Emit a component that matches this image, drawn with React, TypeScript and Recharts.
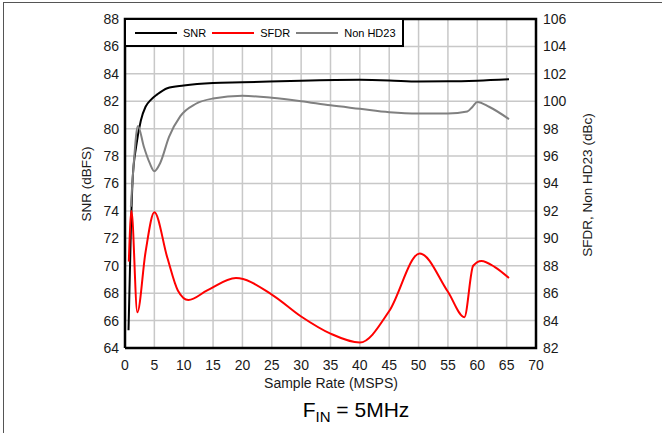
import React from "react";
import { LineChart, Line, XAxis, YAxis } from "recharts";

// sample rate (MSPS) / value pairs
const snrX = [0.6, 1.0, 1.3, 1.9, 2.7, 3.5, 4.4, 5.5, 7.2, 10, 15, 20, 30, 40, 45, 50, 55, 60, 65.4];
const snrY = [65.3, 72.6, 76.3, 78.7, 80.6, 81.6, 82.1, 82.5, 82.95, 83.15, 83.33, 83.38, 83.5, 83.56, 83.52, 83.44, 83.45, 83.5, 83.6];

const sfdrX = [0.65, 1.1, 2.1, 3.5, 5.0, 7.2, 9.0, 10.8, 14, 18.9, 25, 30, 35, 40, 45, 50.2, 55, 57.8, 59.3, 60.7, 63, 65.4];
const sfdrY = [88.3, 92.0, 84.6, 89.0, 91.9, 88.6, 86.2, 85.5, 86.2, 87.1, 85.9, 84.3, 83.05, 82.4, 84.7, 88.9, 86.1, 84.25, 88.0, 88.35, 87.9, 87.1];

const hdX = [1.0, 1.5, 2.2, 3.2, 4.2, 5.0, 6.0, 7.5, 9.4, 12, 15, 20, 25, 30, 35, 40, 45, 50, 55, 58.3, 59.2, 60, 62, 65.4];
const hdY = [92.3, 95.5, 98.2, 96.7, 95.5, 94.9, 95.5, 97.4, 98.9, 99.8, 100.2, 100.4, 100.25, 100.0, 99.7, 99.45, 99.2, 99.1, 99.1, 99.25, 99.6, 99.95, 99.6, 98.7];

const xTicks = [0, 5, 10, 15, 20, 25, 30, 35, 40, 45, 50, 55, 60, 65, 70];
const leftTicks = [64, 66, 68, 70, 72, 74, 76, 78, 80, 82, 84, 86, 88];
const rightTicks = [82, 84, 86, 88, 90, 92, 94, 96, 98, 100, 102, 104, 106];

const X_MIN = 0;
const X_MAX = 70;
const Y_MIN = 64;
const Y_MAX = 88;

const zip = (xs: number[], ys: number[]) => xs.map((x, i) => ({ x, y: ys[i] }));

const snrData = zip(snrX, snrY);
const sfdrData = zip(sfdrX, sfdrY);
const hdData = zip(hdX, hdY);

// grid and frame as tiny line series, so they go through the chart's scales
const gridV = xTicks.slice(1, -1).map((t) => [
  { x: t, y: Y_MIN },
  { x: t, y: Y_MAX },
]);
const gridH = leftTicks.slice(1, -1).map((t) => [
  { x: X_MIN, y: t },
  { x: X_MAX, y: t },
]);
const frame = [
  { x: X_MIN, y: Y_MIN },
  { x: X_MAX, y: Y_MIN },
  { x: X_MAX, y: Y_MAX },
  { x: X_MIN, y: Y_MAX },
  { x: X_MIN, y: Y_MIN },
];

const FONT = '"Liberation Sans", Arial, sans-serif';
const tickStyle = { fontSize: 14, fill: "#1a1a1a", fontFamily: FONT };
const GRID = "#c8c8c8";

const legendItems = [
  { label: "SNR", color: "#000000" },
  { label: "SFDR", color: "#ff0000" },
  { label: "Non HD23", color: "#808080" },
];

const LegendBox = () => (
  <div
    style={{
      position: "absolute",
      left: 124,
      top: 18,
      width: 280,
      height: 29,
      boxSizing: "border-box",
      border: "2px solid #000",
      background: "#fff",
      display: "flex",
      alignItems: "center",
      paddingLeft: 9,
      fontFamily: FONT,
      fontSize: 11,
      color: "#000",
      whiteSpace: "nowrap",
    }}
  >
    {legendItems.map((it) => (
      <div key={it.label} style={{ display: "flex", alignItems: "center", marginRight: 6 }}>
        <div style={{ width: 42, height: 2, background: it.color, marginRight: 6 }} />
        <span>{it.label}</span>
      </div>
    ))}
  </div>
);

const App: React.FC = () => {
  return (
    <div
      style={{
        position: "absolute",
        left: 0,
        top: 0,
        width: 662,
        height: 433,
        background: "#fff",
        fontFamily: FONT,
        overflow: "hidden",
      }}
    >
      <div
        style={{
          position: "absolute",
          left: 3,
          top: 2,
          width: 700,
          height: 500,
          borderTop: "1.5px solid #555",
          borderLeft: "1.5px solid #555",
        }}
      />
      <LineChart
        width={662}
        height={433}
        margin={{ top: 19, right: 0, bottom: 55, left: 0 }}
        style={{ position: "absolute", left: 0, top: 0 }}
      >
        <XAxis
          type="number"
          dataKey="x"
          domain={[X_MIN, X_MAX]}
          ticks={xTicks}
          interval={0}
          axisLine={false}
          tickLine={false}
          tickMargin={6}
          height={30}
          tick={tickStyle}
          allowDuplicatedCategory={false}
        />
        <YAxis
          yAxisId="left"
          orientation="left"
          domain={[Y_MIN, Y_MAX]}
          ticks={leftTicks}
          interval={0}
          width={125}
          axisLine={false}
          tickLine={false}
          tickMargin={0}
          tick={tickStyle}
        />
        <YAxis
          yAxisId="right"
          orientation="right"
          domain={[82, 106]}
          ticks={rightTicks}
          interval={0}
          width={126}
          axisLine={false}
          tickLine={false}
          tickMargin={1}
          tick={tickStyle}
        />
        {gridV.map((d, i) => (
          <Line
            key={"gv" + i}
            yAxisId="left"
            data={d}
            dataKey="y"
            type="linear"
            stroke={GRID}
            strokeWidth={1.5}
            dot={false}
            activeDot={false}
            legendType="none"
            isAnimationActive={false}
          />
        ))}
        {gridH.map((d, i) => (
          <Line
            key={"gh" + i}
            yAxisId="left"
            data={d}
            dataKey="y"
            type="linear"
            stroke={GRID}
            strokeWidth={1.5}
            dot={false}
            activeDot={false}
            legendType="none"
            isAnimationActive={false}
          />
        ))}
        <Line
          yAxisId="left"
          data={frame}
          dataKey="y"
          type="linear"
          stroke="#000"
          strokeWidth={2.5}
          dot={false}
          activeDot={false}
          legendType="none"
          isAnimationActive={false}
        />
        <Line
          yAxisId="left"
          data={snrData}
          dataKey="y"
          name="SNR"
          type="monotone"
          stroke="#000000"
          strokeWidth={2}
          dot={false}
          isAnimationActive={false}
        />
        <Line
          yAxisId="right"
          data={sfdrData}
          dataKey="y"
          name="SFDR"
          type="monotone"
          stroke="#ff0000"
          strokeWidth={2}
          dot={false}
          isAnimationActive={false}
        />
        <Line
          yAxisId="right"
          data={hdData}
          dataKey="y"
          name="Non HD23"
          type="monotone"
          stroke="#808080"
          strokeWidth={2}
          dot={false}
          isAnimationActive={false}
        />
      </LineChart>
      <LegendBox />
      <div
        style={{
          position: "absolute",
          left: 86,
          top: 184,
          transform: "translate(-50%, -50%) rotate(-90deg)",
          fontSize: 13.5,
          whiteSpace: "nowrap",
          color: "#1a1a1a",
        }}
      >
        SNR (dBFS)
      </div>
      <div
        style={{
          position: "absolute",
          left: 587,
          top: 185,
          transform: "translate(-50%, -50%) rotate(-90deg)",
          fontSize: 13.5,
          whiteSpace: "nowrap",
          color: "#1a1a1a",
        }}
      >
        SFDR, Non HD23 (dBc)
      </div>
      <div
        style={{
          position: "absolute",
          left: 331,
          top: 383,
          transform: "translate(-50%, -50%)",
          fontSize: 14,
          whiteSpace: "nowrap",
          color: "#1a1a1a",
        }}
      >
        Sample Rate (MSPS)
      </div>
      <div
        style={{
          position: "absolute",
          left: 356,
          top: 411,
          transform: "translate(-50%, -50%)",
          fontSize: 21,
          whiteSpace: "nowrap",
          color: "#000",
        }}
      >
        F<sub style={{ fontSize: 15, verticalAlign: "-5px" }}>IN</sub> = 5MHz
      </div>
    </div>
  );
};

export default App;
